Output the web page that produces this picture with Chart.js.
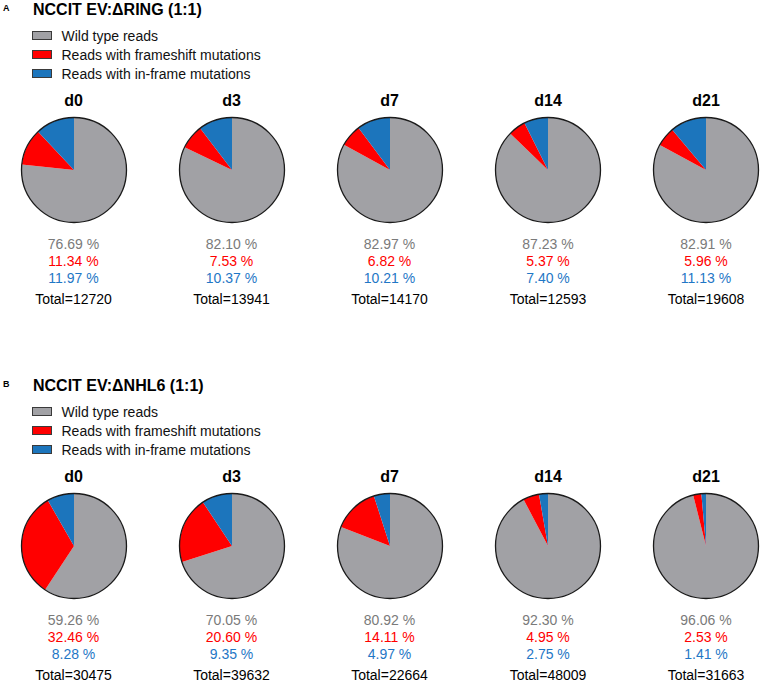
<!DOCTYPE html>
<html><head><meta charset="utf-8">
<script src="https://cdn.jsdelivr.net/npm/chart.js@4.4.1/dist/chart.umd.min.js"></script>
<style>
html,body{margin:0;padding:0;background:#fff}
body{width:760px;height:682px;position:relative;overflow:hidden;font-family:"Liberation Sans",Arial,Helvetica,sans-serif}
.t{position:absolute;white-space:nowrap;line-height:18px;height:18px}
.c{text-align:center;width:140px}
canvas{position:absolute}
.box{position:absolute;width:18px;height:7px;border:1px solid #3a3a3a}
</style></head><body>
<script>
// ---- data ----
const days = ['d0', 'd3', 'd7', 'd14', 'd21'];
const seriesNames = ['Wild type reads', 'Reads with frameshift mutations', 'Reads with in-frame mutations'];
const panelTitles = ['NCCIT EV:\u0394RING (1:1)', 'NCCIT EV:\u0394NHL6 (1:1)'];
const panelLetters = ['A', 'B'];
const wildA = [76.69, 82.10, 82.97, 87.23, 82.91];
const frameA = [11.34, 7.53, 6.82, 5.37, 5.96];
const inframeA = [11.97, 10.37, 10.21, 7.40, 11.13];
const totalA = [12720, 13941, 14170, 12593, 19608];
const wildB = [59.26, 70.05, 80.92, 92.30, 96.06];
const frameB = [32.46, 20.60, 14.11, 4.95, 2.53];
const inframeB = [8.28, 9.35, 4.97, 2.75, 1.41];
const totalB = [30475, 39632, 22664, 48009, 31663];

// ---- styles / layout ----
const sliceColors = ['#a1a1a5', '#ff0000', '#1c75bc'];
const textColors = ['#7a7a7a', '#ff0000', '#1f77c6'];
const centersX = [73.5, 231.5, 389.5, 548, 706];
const panelOffsetY = [0, 376];
const panels = [
  {wild: wildA, frame: frameA, inframe: inframeA, total: totalA},
  {wild: wildB, frame: frameB, inframe: inframeB, total: totalB}
];

const outline = {
  id: 'outline',
  afterDatasetsDraw(chart) {
    const a = chart.getDatasetMeta(0).data[0];
    if (!a) return;
    const ctx = chart.ctx;
    ctx.save();
    ctx.beginPath();
    ctx.arc(a.x, a.y, a.outerRadius, 0, Math.PI * 2);
    ctx.lineWidth = 1.3;
    ctx.strokeStyle = '#1a1a1a';
    ctx.stroke();
    ctx.restore();
  }
};

function addText(txt, x, y, css, centered) {
  const d = document.createElement('div');
  d.className = 't' + (centered ? ' c' : '');
  d.textContent = txt;
  d.style.left = (centered ? x - 70 : x) + 'px';
  d.style.top = (y - 9) + 'px';
  Object.assign(d.style, css);
  document.body.appendChild(d);
  return d;
}

panels.forEach((p, pi) => {
  const oy = panelOffsetY[pi];
  addText(panelLetters[pi], 3, 8 + oy, {fontSize: '9px', fontWeight: 'bold'});
  addText(panelTitles[pi], 33, 10 + oy, {fontSize: '16px', fontWeight: 'bold'});
  seriesNames.forEach((name, si) => {
    const b = document.createElement('div');
    b.className = 'box';
    b.style.left = '32px';
    b.style.top = (35.5 + si * 19 + oy - 4.5) + 'px';
    b.style.background = sliceColors[si];
    document.body.appendChild(b);
    addText(name, 61.5, 35.5 + si * 19 + oy, {fontSize: '14px', color: '#111'});
  });
  days.forEach((day, di) => {
    const cx = centersX[di];
    const cy = 170 + oy;
    addText(day, cx, 100.5 + oy, {fontSize: '16px', fontWeight: 'bold', color: '#000'}, true);
    const cv = document.createElement('canvas');
    cv.width = 120; cv.height = 120;
    cv.style.left = (cx - 60) + 'px';
    cv.style.top = (cy - 60) + 'px';
    cv.style.width = '120px'; cv.style.height = '120px';
    document.body.appendChild(cv);
    new Chart(cv, {
      type: 'pie',
      data: {
        labels: seriesNames,
        datasets: [{
          data: [p.wild[di], p.frame[di], p.inframe[di]],
          backgroundColor: sliceColors,
          borderWidth: 0
        }]
      },
      options: {
        responsive: false,
        animation: false,
        devicePixelRatio: 1,
        layout: {padding: 7.5},
        plugins: {legend: {display: false}, tooltip: {enabled: false}}
      },
      plugins: [outline]
    });
    const vals = [p.wild[di], p.frame[di], p.inframe[di]];
    vals.forEach((v, vi) => {
      addText(v.toFixed(2) + ' %', cx, 244 + vi * 17 + oy, {fontSize: '14px', color: textColors[vi]}, true);
    });
    addText('Total=' + p.total[di], cx, 298.5 + oy, {fontSize: '14px', color: '#000'}, true);
  });
});
</script>
</body></html>
